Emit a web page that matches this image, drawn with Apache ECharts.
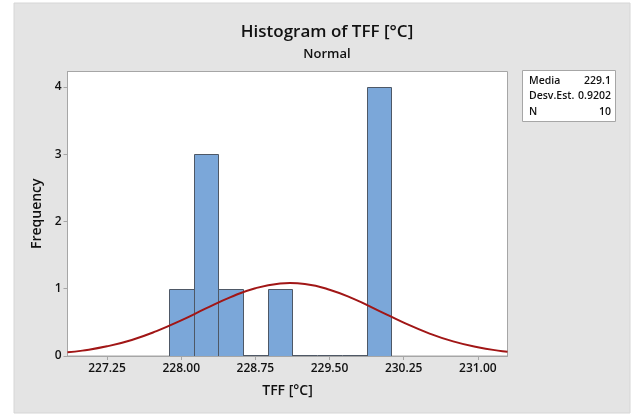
<!DOCTYPE html>
<html>
<head>
<meta charset="utf-8">
<script src="https://cdn.jsdelivr.net/npm/echarts@6/dist/echarts.min.js"></script>
<style>
html,body{margin:0;padding:0;background:#fff;}
#chart{width:631px;height:415px;}
</style>
</head>
<body>
<div id="chart"></div>
<script>
// ---- data ----
var binMids = [228.0, 228.25, 228.5, 228.75, 229.0, 229.25, 229.5, 229.75, 230.0];
var binCounts = [1, 3, 1, 0, 1, 0, 0, 0, 4];
var binWidth = 0.25;
var xTicks = [227.25, 228.0, 228.75, 229.5, 230.25, 231.0];
var yTicks = [0, 1, 2, 3, 4];
// normal fit curve
var curveX = [226.85, 227.0, 227.25, 227.5, 227.75, 228.0, 228.25, 228.5, 228.75, 229.0, 229.1, 229.25, 229.5, 229.75, 230.0, 230.25, 230.5, 230.75, 231.0, 231.25, 231.3];
var curveY = [0.055, 0.08, 0.144, 0.239, 0.37, 0.53, 0.707, 0.876, 1.008, 1.077, 1.084, 1.07, 0.986, 0.845, 0.672, 0.496, 0.341, 0.217, 0.129, 0.071, 0.062];
var statLabels = ['Media', 'Desv.Est.', 'N'];
var statValues = ['229.1', '0.9202', '10'];
var titleText = 'Histogram of TFF [°C]';
var subtitleText = 'Normal';
var xName = 'TFF [°C]';
var yName = 'Frequency';

var FONT = '"Open Sans", "Noto Sans", sans-serif';
var chart = echarts.init(document.getElementById('chart'), null, {renderer: 'canvas'});

var barData = binMids.map(function (m, i) { return [m - binWidth / 2, m + binWidth / 2, binCounts[i]]; });
var curveData = curveX.map(function (x, i) { return [x, curveY[i]]; });

var statTexts = [];
statLabels.forEach(function (l, i) {
  statTexts.push({type: 'text', z: 6, style: {x: 529, y: 81 + i * 15.3, text: l,
    font: '600 10.5px ' + FONT, fill: '#111', verticalAlign: 'middle', align: 'left'}});
  statTexts.push({type: 'text', z: 6, style: {x: 611, y: 81 + i * 15.3, text: statValues[i],
    font: '600 10.5px ' + FONT, fill: '#111', verticalAlign: 'middle', align: 'right'}});
});

chart.setOption({
  backgroundColor: '#ffffff',
  animation: false,
  textStyle: {fontFamily: FONT},
  title: [
    {text: titleText, left: 322, top: 19, textAlign: 'center',
      textStyle: {fontFamily: FONT, fontSize: 17, fontWeight: 600, color: '#111'}},
    {text: subtitleText, left: 322, top: 43, textAlign: 'center',
      textStyle: {fontFamily: FONT, fontSize: 13, fontWeight: 600, color: '#111'}}
  ],
  graphic: [
    {type: 'rect', z: -10, silent: true, shape: {x: 14, y: 3, width: 616, height: 410},
      style: {fill: '#e4e4e4', stroke: '#d6d6d6', lineWidth: 1}},
    {type: 'rect', z: 5, shape: {x: 522.5, y: 70.5, width: 93, height: 51},
      style: {fill: '#ffffff', stroke: '#a6a6a6', lineWidth: 1}}
  ].concat(statTexts),
  grid: {left: 67.5, right: 123.5, top: 71.5, bottom: 59, show: true,
    backgroundColor: '#ffffff', borderColor: '#a6a6a6', borderWidth: 1},
  xAxis: {
    type: 'value', min: 226.85, max: 231.3,
    name: xName, nameLocation: 'middle', nameGap: 28,
    nameTextStyle: {fontFamily: FONT, fontSize: 14, fontWeight: 600, color: '#111'},
    axisLine: {show: true, lineStyle: {color: '#a6a6a6'}},
    axisTick: {show: true, length: 4, lineStyle: {color: '#a6a6a6'}, customValues: xTicks},
    axisLabel: {customValues: xTicks, margin: 7, fontFamily: FONT, fontSize: 12, fontWeight: 600, color: '#111',
      formatter: function (v) { return v.toFixed(2); }},
    splitLine: {show: false}
  },
  yAxis: {
    type: 'value', min: 0, max: 4.23,
    name: yName, nameLocation: 'middle', nameGap: 21,
    nameTextStyle: {fontFamily: FONT, fontSize: 14, fontWeight: 600, color: '#111'},
    axisLine: {show: true, lineStyle: {color: '#a6a6a6'}},
    axisTick: {show: true, length: 4, lineStyle: {color: '#a6a6a6'}, customValues: yTicks},
    axisLabel: {customValues: yTicks, margin: 6, fontFamily: FONT, fontSize: 12, fontWeight: 600, color: '#111'},
    splitLine: {show: false}
  },
  series: [
    {
      type: 'custom',
      data: barData,
      encode: {x: [0, 1], y: 2},
      clip: true,
      z: 2,
      renderItem: function (params, api) {
        var p0 = api.coord([api.value(0), api.value(2)]);
        var p1 = api.coord([api.value(1), 0]);
        var x0 = Math.round(p0[0]) + 0.5, x1 = Math.round(p1[0]) + 0.5;
        var y0 = Math.round(p0[1]) + 0.5, y1 = Math.round(p1[1]) + 0.5;
        if (api.value(2) === 0) {
          return {type: 'line', shape: {x1: x0, y1: y1 - 1, x2: x1, y2: y1 - 1},
            style: {stroke: '#4e5866', lineWidth: 1}};
        }
        return {
          type: 'rect',
          shape: {x: x0, y: y0, width: x1 - x0, height: y1 - y0},
          style: {fill: '#7ba7d9', stroke: '#4e5866', lineWidth: 1}
        };
      }
    },
    {
      type: 'line',
      data: curveData,
      smooth: true,
      symbol: 'none',
      lineStyle: {color: '#a11616', width: 2},
      z: 3
    }
  ]
});
</script>
</body>
</html>
